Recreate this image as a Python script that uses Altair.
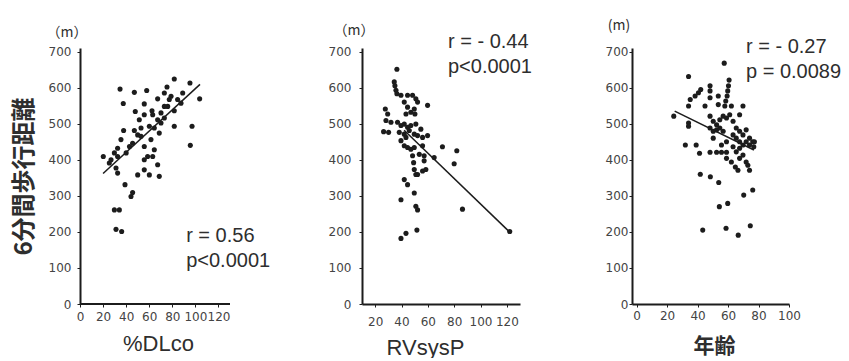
import altair as alt
import pandas as pd

# ---------------- data ----------------
dlco_points = [(34.7, 596), (47.1, 587), (57.8, 592), (37.5, 556), (55.7, 555), (62.4, 536),
               (47.9, 534), (81.7, 624), (75.4, 602), (73.1, 585), (67.3, 569), (77.4, 567),
               (95.3, 613), (103.7, 569), (97.1, 493), (95.6, 440), (81.7, 493), (20.2, 409),
               (25.4, 391), (29.8, 419), (32.6, 432), (37.8, 481), (47.1, 481), (50.0, 469),
               (55.7, 525), (60.1, 493), (64.4, 488), (68.7, 474), (45.6, 446), (52.9, 465),
               (55.7, 437), (61.5, 456), (64.4, 428), (58.6, 409), (67.3, 386), (68.7, 354),
               (60.1, 358), (50.0, 358), (55.7, 372), (31.2, 377), (32.6, 363), (39.0, 331),
               (45.6, 309), (44.2, 298), (29.8, 261), (34.1, 261), (31.2, 207), (36.1, 201),
               (73.1, 516), (76.0, 548), (84.6, 567), (89.0, 585), (81.7, 536), (87.5, 557),
               (67.3, 511), (70.2, 530), (40.0, 419), (42.9, 437), (52.9, 488), (51.4, 511),
               (55.7, 400), (63.0, 409), (26.9, 400), (35.5, 456), (32.6, 409), (78.9, 576),
               (73.1, 548), (70.2, 502), (63.0, 525)]
dlco_fit = [(20, 362), (104, 609)]

rv_points = [(36.5, 651), (34.5, 616), (35.0, 605), (35.8, 593), (36.5, 583), (27.7, 541),
             (29.5, 527), (28.2, 509), (32.0, 504), (26.4, 478), (30.2, 476), (39.6, 579),
             (42.1, 560), (44.6, 546), (47.1, 532), (43.4, 527), (44.6, 579), (48.4, 579),
             (50.9, 569), (52.2, 560), (49.7, 541), (50.2, 527), (59.8, 551), (37.0, 504),
             (39.6, 495), (42.1, 499), (44.6, 490), (47.1, 495), (50.9, 499), (38.3, 476),
             (42.1, 471), (45.9, 481), (49.7, 471), (52.2, 467), (54.7, 485), (56.0, 462),
             (59.8, 467), (42.1, 439), (44.6, 434), (47.1, 429), (49.7, 434), (48.4, 411),
             (49.2, 392), (49.7, 373), (50.9, 359), (52.2, 359), (56.0, 369), (58.5, 373),
             (57.2, 411), (57.2, 397), (64.8, 406), (71.1, 436), (82.0, 425), (80.0, 389),
             (42.1, 345), (44.6, 331), (39.6, 289), (49.7, 308), (50.9, 271), (52.2, 261),
             (43.4, 196), (39.6, 182), (51.7, 205), (86.3, 263), (122.2, 201), (56.0, 439),
             (53.5, 415), (39.6, 453), (43.4, 462)]
rv_fit = [(42, 482), (122, 200)]

age_points = [(57.5, 668), (34.1, 631), (60.7, 621), (60.3, 605), (59.8, 591), (59.4, 577),
              (58.5, 563), (57.9, 549), (24.4, 521), (34.1, 549), (35.2, 567), (38.4, 577),
              (40.6, 586), (42.1, 595), (48.2, 605), (48.2, 591), (48.2, 572), (44.9, 549),
              (53.6, 577), (53.6, 553), (62.2, 549), (69.8, 549), (67.6, 525), (34.1, 502),
              (34.1, 493), (48.2, 521), (50.3, 507), (52.5, 497), (54.6, 511), (56.8, 521),
              (59.0, 516), (61.1, 525), (63.3, 507), (48.2, 488), (50.3, 479), (52.5, 483),
              (54.6, 488), (56.8, 479), (65.4, 488), (67.6, 479), (69.8, 469), (71.9, 483),
              (74.1, 460), (76.2, 450), (74.1, 441), (71.9, 450), (63.3, 469), (65.4, 460),
              (67.6, 450), (69.8, 441), (67.6, 432), (65.4, 422), (63.3, 436), (32.0, 441),
              (39.1, 441), (41.3, 418), (48.2, 421), (52.5, 421), (55.7, 421), (59.0, 421),
              (59.0, 404), (62.2, 394), (64.8, 380), (66.5, 371), (69.8, 413), (71.9, 394),
              (73.0, 385), (74.1, 371), (67.6, 404), (41.8, 360), (48.4, 353), (53.9, 337),
              (70.3, 302), (76.2, 316), (54.3, 270), (59.8, 279), (43.4, 205), (58.7, 210),
              (66.7, 191), (74.6, 217), (50.3, 460), (55.7, 441), (59.0, 450), (77.3, 450),
              (76.9, 436)]
age_fit = [(25, 535), (77, 427)]

y_ticks = [0, 100, 200, 300, 400, 500, 600, 700]
dlco_ticks = [0, 20, 40, 60, 80, 100, 120]
rv_ticks = [20, 40, 60, 80, 100, 120]
age_ticks = [0, 20, 40, 60, 80, 100]

# extent of the drawn x-axis line of panel 1 (data units)
dlco_axis_extent = [0, 130]

dlco_notes = [(92, 172, "r = 0.56"), (92, 103, "p<0.0001")]
rv_notes = [(75.3, 709, "r = - 0.44"), (75.3, 641, "p<0.0001")]
age_notes = [(71.8, 697, "r = - 0.27"), (71.8, 628, "p = 0.0089")]

# unit labels above each y axis, in data units of their panel
dlco_unit = [(-11.3, 752, "（m）")]
rv_unit = [(3.9, 756, "（m）")]
age_unit = [(-11.5, 770, "(m)")]

y_title = "6分間歩行距離"
x_titles = ["%DLco", "RVsysP", "年齢"]

INK = "#1c1c1c"
TXT = "#2e2e2e"
LAB = "#444444"
H = 256


def panel(points, fit, notes, unit, xdomain, xticks, xtitle, xfont, xsize, xweight,
          xtitle_x, xtitle_y, width, ylab_pad, xlab_pad,
          ytitle=None, axis_extent=None):
    pts = pd.DataFrame(points, columns=["x", "y"])
    fit_df = pd.DataFrame(fit, columns=["x", "y"])
    note_df = pd.DataFrame(notes, columns=["x", "y", "t"])
    unit_df = pd.DataFrame(unit, columns=["x", "y", "t"])

    xaxis = alt.Axis(values=xticks, title=xtitle, grid=False, domain=axis_extent is None,
                     domainColor=INK, domainWidth=2,
                     tickColor=INK, tickSize=3, tickWidth=1, labelFont="DejaVu Sans",
                     labelFontSize=12, labelColor=LAB, labelPadding=xlab_pad,
                     labelFlush=False, labelOverlap=False,
                     titleFont=xfont, titleFontSize=xsize, titleFontWeight=xweight,
                     titleColor=TXT, titleX=xtitle_x, titleY=xtitle_y,
                     titleAlign="center", titleBaseline="middle")
    ykw = dict(values=y_ticks, grid=False, domainColor=INK, domainWidth=2,
               tickColor=INK, tickSize=3, tickWidth=1, labelFont="DejaVu Sans",
               labelFontSize=12, labelColor=LAB, labelPadding=ylab_pad, labelFlush=False)
    if ytitle:
        yaxis = alt.Axis(title=ytitle, titleFont="Noto Sans CJK JP", titleFontSize=24,
                         titleFontWeight="bold", titleColor=TXT, titleX=-56, titleY=H / 2,
                         titleAlign="center", titleBaseline="middle", **ykw)
    else:
        yaxis = alt.Axis(title=None, **ykw)

    xenc = alt.X("x:Q", scale=alt.Scale(domain=xdomain, nice=False, zero=False), axis=xaxis)
    yenc = alt.Y("y:Q", scale=alt.Scale(domain=[0, 710], nice=False, zero=False), axis=yaxis)

    dots = alt.Chart(pts).mark_circle(size=26, color=INK, opacity=1).encode(x=xenc, y=yenc)
    line = alt.Chart(fit_df).mark_line(color=INK, strokeWidth=1.5).encode(x=xenc, y=yenc)
    text = alt.Chart(note_df).mark_text(align="left", baseline="alphabetic",
                                        font="Liberation Sans", fontSize=20,
                                        color=TXT).encode(x=xenc, y=yenc, text="t:N")
    utext = alt.Chart(unit_df).mark_text(align="center", baseline="middle",
                                         font="Noto Sans CJK JP", fontSize=14,
                                         color=TXT).encode(x=xenc, y=yenc, text="t:N")
    layers = [dots, line, text, utext]
    if axis_extent is not None:
        ax_df = pd.DataFrame({"x": [axis_extent[0]], "x2": [axis_extent[1]], "y": [0]})
        axis_line = alt.Chart(ax_df).mark_rule(color=INK, strokeWidth=2).encode(
            x=xenc, x2="x2:Q", y=yenc)
        layers.append(axis_line)
    return alt.layer(*layers).properties(width=width, height=H)


# panel 1 gets 20 px of empty room on its right so that one spacing fits both gaps
p1 = panel(dlco_points, dlco_fit, dlco_notes, dlco_unit, [0, 130 * 170 / 150], dlco_ticks,
           x_titles[0], "Liberation Sans", 22, "normal", 78, 39, 170, 6, 4,
           ytitle=y_title, axis_extent=dlco_axis_extent)
p2 = panel(rv_points, rv_fit, rv_notes, rv_unit, [10, 130], rv_ticks, x_titles[1],
           "Liberation Sans", 22, "normal", 63, 43, 158, 8, 9)
p3 = panel(age_points, age_fit, age_notes, age_unit, [-3, 100], age_ticks, x_titles[2],
           "Noto Sans CJK JP", 21, "bold", 82, 42, 157, 1, 3)

chart = alt.hconcat(p1, p2, p3, spacing=112, bounds="flush").properties(
    padding={"left": 11, "top": 19, "right": 0, "bottom": 0}
).configure_view(strokeWidth=0)

chart.save("out.html", embed_options={"renderer": "svg", "actions": False})
